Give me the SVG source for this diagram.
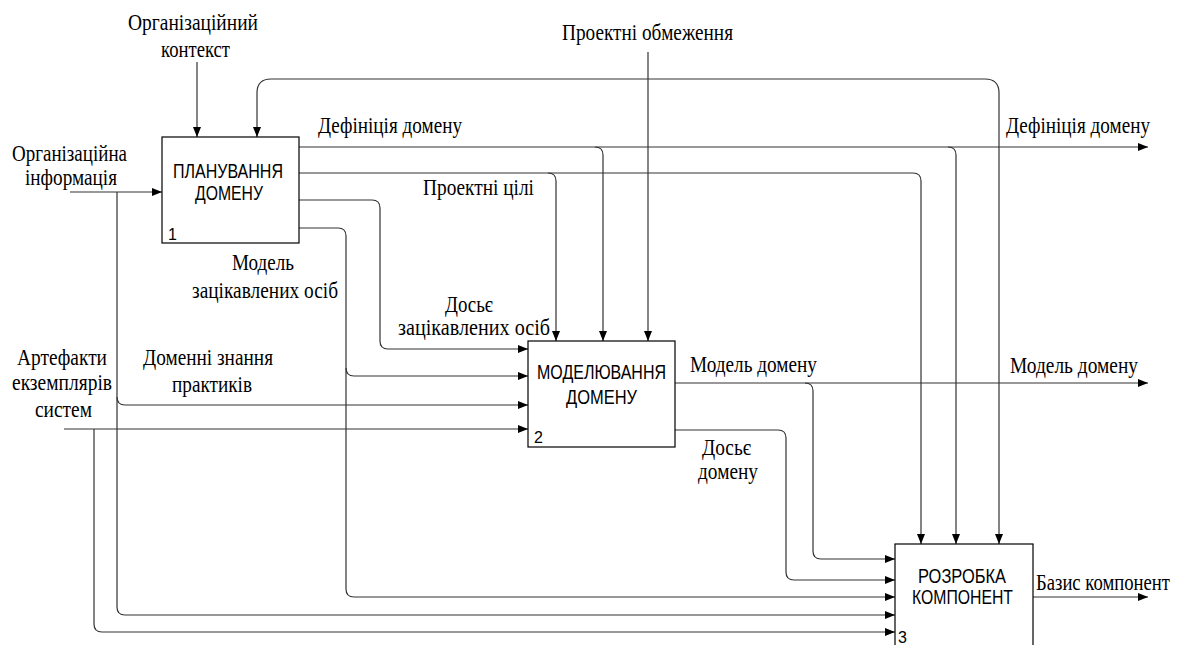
<svg xmlns="http://www.w3.org/2000/svg" width="1178" height="645" viewBox="0 0 1178 645">
<style>
.bx{fill:#fff;stroke:#000;stroke-width:1.2}
.bt{font-family:"Liberation Sans",Arial,sans-serif;font-size:21px;fill:#000}
.num{font-family:"Liberation Sans",Arial,sans-serif;font-size:16px;fill:#000}
.lb{font-family:"Liberation Serif","Times New Roman",serif;font-size:23px;fill:#000}
.c{fill:none;stroke:#333;stroke-width:1.2}
</style>
<defs>
<marker id="ah" markerWidth="10" markerHeight="8" refX="10" refY="4" orient="auto-start-reverse" markerUnits="userSpaceOnUse">
<path d="M0,0 L10,4 L0,8 z" fill="#000"/>
</marker>
</defs>
<rect width="1178" height="645" fill="#fff"/>
<g id="connectors">
<path class="c" d="M197,62 V137" marker-end="url(#ah)"/>
<path class="c" d="M70,192 H162" marker-end="url(#ah)"/>
<path class="c" d="M117,192 V607 Q117,615 125,615 H895" marker-end="url(#ah)"/>
<path class="c" d="M117,397 Q117,405 125,405 H528" marker-end="url(#ah)"/>
<path class="c" d="M64,429 H528" marker-end="url(#ah)"/>
<path class="c" d="M94,429 V624 Q94,632 102,632 H895" marker-end="url(#ah)"/>
<path class="c" d="M299,147 H1148" marker-end="url(#ah)"/>
<path class="c" d="M595,147 Q603,147 603,155 V341" marker-end="url(#ah)"/>
<path class="c" d="M948,147 Q956,147 956,155 V544" marker-end="url(#ah)"/>
<path class="c" d="M299,173 H913 Q921,173 921,181 V544" marker-end="url(#ah)"/>
<path class="c" d="M548,173 Q556,173 556,181 V341" marker-end="url(#ah)"/>
<path class="c" d="M299,200 H372 Q380,200 380,208 V341 Q380,349 388,349 H528" marker-end="url(#ah)"/>
<path class="c" d="M299,228 H338 Q346,228 346,236 V368 Q346,376 354,376 H528" marker-end="url(#ah)"/>
<path class="c" d="M346,368 V589 Q346,597 354,597 H895" marker-end="url(#ah)"/>
<path class="c" d="M648,52 V341" marker-end="url(#ah)"/>
<path class="c" d="M999,544 V93 Q999,79 985,79 H271 Q257,79 257,93 V137" marker-start="url(#ah)" marker-end="url(#ah)"/>
<path class="c" d="M675,383 H1148" marker-end="url(#ah)"/>
<path class="c" d="M805,383 Q813,383 813,391 V551 Q813,559 821,559 H895" marker-end="url(#ah)"/>
<path class="c" d="M675,430 H778 Q786,430 786,438 V572 Q786,580 794,580 H895" marker-end="url(#ah)"/>
<path class="c" d="M1033,597 H1148" marker-end="url(#ah)"/>
</g>
<g id="node1">
<rect class="bx" x="162" y="137" width="137" height="106"/>
<text class="bt" x="173" y="178" textLength="110" lengthAdjust="spacingAndGlyphs">ПЛАНУВАННЯ</text>
<text class="bt" x="195" y="200" textLength="68" lengthAdjust="spacingAndGlyphs">ДОМЕНУ</text>
<text class="num" x="168" y="240">1</text>
</g>
<g id="node2">
<rect class="bx" x="528" y="341" width="147" height="106"/>
<text class="bt" x="537" y="379" textLength="129" lengthAdjust="spacingAndGlyphs">МОДЕЛЮВАННЯ</text>
<text class="bt" x="566" y="404" textLength="71" lengthAdjust="spacingAndGlyphs">ДОМЕНУ</text>
<text class="num" x="534" y="443">2</text>
</g>
<g id="node3">
<rect class="bx" x="895" y="544" width="138" height="120"/>
<text class="bt" x="918" y="583" textLength="88" lengthAdjust="spacingAndGlyphs">РОЗРОБКА</text>
<text class="bt" x="912" y="604" textLength="101" lengthAdjust="spacingAndGlyphs">КОМПОНЕНТ</text>
<text class="num" x="898" y="643">3</text>
</g>
<g id="labels">
<text class="lb" x="128" y="30" textLength="130" lengthAdjust="spacingAndGlyphs">Організаційний</text>
<text class="lb" x="161" y="57" textLength="69" lengthAdjust="spacingAndGlyphs">контекст</text>
<text class="lb" x="12" y="161" textLength="115" lengthAdjust="spacingAndGlyphs">Організаційна</text>
<text class="lb" x="25" y="185" textLength="92" lengthAdjust="spacingAndGlyphs">інформація</text>
<text class="lb" x="318" y="133" textLength="144" lengthAdjust="spacingAndGlyphs">Дефініція домену</text>
<text class="lb" x="1006" y="133" textLength="144" lengthAdjust="spacingAndGlyphs">Дефініція домену</text>
<text class="lb" x="562" y="40" textLength="171" lengthAdjust="spacingAndGlyphs">Проектні обмеження</text>
<text class="lb" x="423" y="195" textLength="111" lengthAdjust="spacingAndGlyphs">Проектні цілі</text>
<text class="lb" x="232" y="270" textLength="62" lengthAdjust="spacingAndGlyphs">Модель</text>
<text class="lb" x="192" y="298" textLength="146" lengthAdjust="spacingAndGlyphs">зацікавлених осіб</text>
<text class="lb" x="445" y="312" textLength="48" lengthAdjust="spacingAndGlyphs">Досьє</text>
<text class="lb" x="398" y="335" textLength="152" lengthAdjust="spacingAndGlyphs">зацікавлених осіб</text>
<text class="lb" x="17" y="365" textLength="90" lengthAdjust="spacingAndGlyphs">Артефакти</text>
<text class="lb" x="12" y="390" textLength="100" lengthAdjust="spacingAndGlyphs">екземплярів</text>
<text class="lb" x="35" y="417" textLength="57" lengthAdjust="spacingAndGlyphs">систем</text>
<text class="lb" x="143" y="365" textLength="130" lengthAdjust="spacingAndGlyphs">Доменні знання</text>
<text class="lb" x="172" y="392" textLength="80" lengthAdjust="spacingAndGlyphs">практиків</text>
<text class="lb" x="690" y="372" textLength="127" lengthAdjust="spacingAndGlyphs">Модель домену</text>
<text class="lb" x="1010" y="373" textLength="128" lengthAdjust="spacingAndGlyphs">Модель домену</text>
<text class="lb" x="702" y="455" textLength="49" lengthAdjust="spacingAndGlyphs">Досьє</text>
<text class="lb" x="698" y="479" textLength="60" lengthAdjust="spacingAndGlyphs">домену</text>
<text class="lb" transform="translate(1036,590) scale(1,1.2)" x="0" y="0" style="font-size:19px" textLength="134" lengthAdjust="spacingAndGlyphs">Базис компонент</text>
</g>
</svg>
